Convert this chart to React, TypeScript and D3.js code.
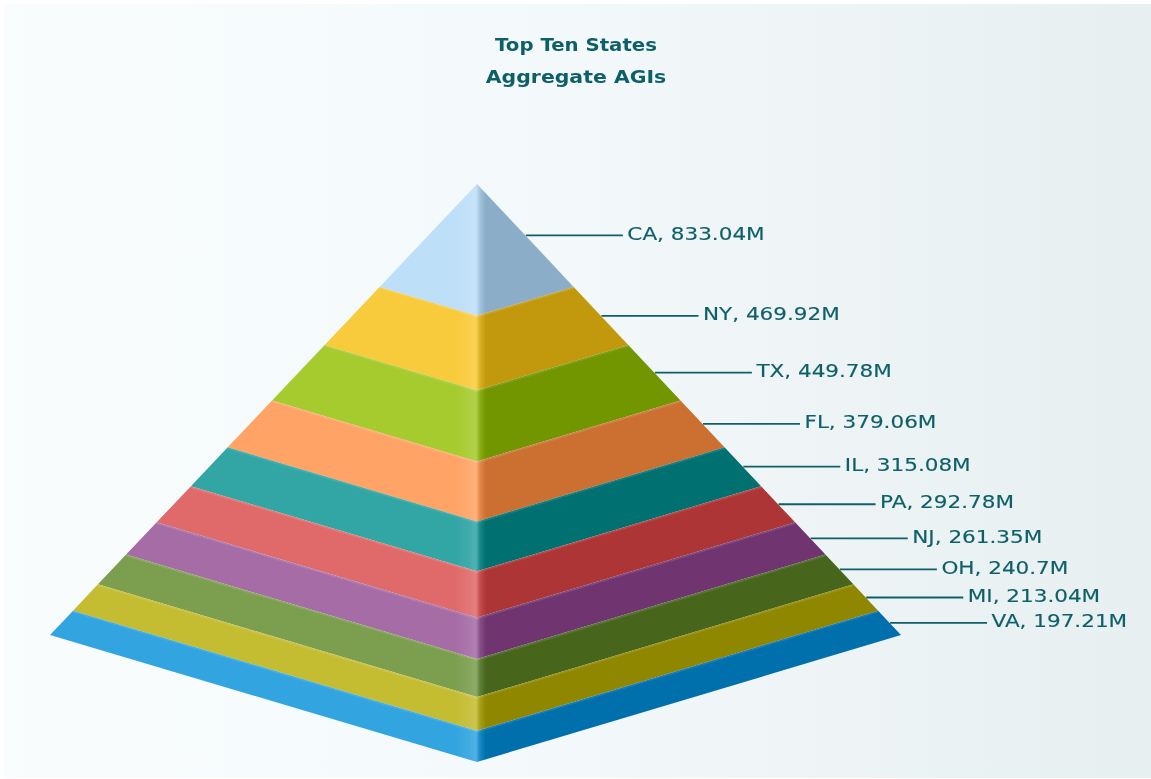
import React from "react";
import * as d3 from "d3";

const states = ["CA", "NY", "TX", "FL", "IL", "PA", "NJ", "OH", "MI", "VA"];
const values = [833.04, 469.92, 449.78, 379.06, 315.08, 292.78, 261.35, 240.7, 213.04, 197.21];
const valueLabels = ["833.04M", "469.92M", "449.78M", "379.06M", "315.08M", "292.78M", "261.35M", "240.7M", "213.04M", "197.21M"];
const leftColors = ["#BEDFF8", "#F8CB3C", "#A6CB2F", "#FFA466", "#33A5A5", "#E06B6B", "#A66CA6", "#7C9F50", "#C4BD33", "#33A5E0"];
const rightColors = ["#8CADC8", "#C2990C", "#719600", "#CC7033", "#007070", "#AD3535", "#703570", "#46661F", "#8F8700", "#006FAD"];
const titleLines = ["Top Ten States", "Aggregate AGIs"];

const W = 1151;
const H = 779;
const textColor = "#0F5F68";
const font = "'DejaVu Sans', Verdana, sans-serif";
const titleStretch = [1.09, 1.13];
const labelStretch = 1.19;

export default function App() {
  const cum = d3.cumsum(values);
  const total = cum[cum.length - 1];
  const t = d3.scaleLinear().domain([0, total]);
  const centerX = 477;
  const xLeft = t.copy().range([centerX, 50]);
  const xRight = t.copy().range([centerX, 901]);
  const ySide = t.copy().range([184, 635]);
  const yFront = t.copy().range([184, 762]);
  const line = d3.line<[number, number]>();
  const off = d3.scaleLinear().domain([50, 901]).range([0, 1]);

  return (
    <svg
      width={W}
      height={H}
      viewBox={`0 0 ${W} ${H}`}
      style={{ position: "absolute", left: 0, top: 0, display: "block" }}
    >
      <defs>
        <linearGradient id="bg" x1="0" x2="1" y1="0" y2="0">
          <stop offset="0" stopColor="#F9FDFE" />
          <stop offset="0.5" stopColor="#F3F8FA" />
          <stop offset="1" stopColor="#E7EFF1" />
        </linearGradient>
        <filter id="soft" x="-2%" y="-2%" width="104%" height="104%">
          <feGaussianBlur stdDeviation="0.7" />
        </filter>
        <filter id="softText" x="-5%" y="-20%" width="110%" height="140%">
          <feGaussianBlur stdDeviation="0.4" />
        </filter>
        {states.map((s, i) => {
          const L = leftColors[i];
          const R = rightColors[i];
          const mix = d3.interpolateRgb(L, R);
          const light = d3.interpolateRgb(L, "#ffffff");
          return (
            <linearGradient
              key={s}
              id={`face-${s}`}
              gradientUnits="userSpaceOnUse"
              x1={50}
              x2={901}
              y1="0"
              y2="0"
            >
              <stop offset="0" stopColor={L} />
              <stop offset={off(456)} stopColor={L} />
              <stop offset={off(470)} stopColor={light(0.08)} />
              <stop offset={off(476)} stopColor={light(0.14)} />
              <stop offset={off(480)} stopColor={mix(0.55)} />
              <stop offset={off(486)} stopColor={R} />
              <stop offset="1" stopColor={R} />
            </linearGradient>
          );
        })}
      </defs>
      <rect x={4} y={4} width={W - 4} height={H - 5} fill="url(#bg)" />

      <g filter="url(#soft)">
        {states.map((s, i) => {
          const a = i === 0 ? 0 : cum[i - 1];
          const b = cum[i];
          const d =
            line([
              [xLeft(a), ySide(a)],
              [centerX, yFront(a)],
              [xRight(a), ySide(a)],
              [xRight(b), ySide(b)],
              [centerX, yFront(b)],
              [xLeft(b), ySide(b)],
            ]) + "Z";
          const rim =
            i === 0
              ? null
              : line([
                  [xLeft(a), ySide(a) + 1],
                  [centerX, yFront(a) + 1],
                  [xRight(a), ySide(a) + 1],
                ]);
          return (
            <g key={s}>
              <path d={d} fill={`url(#face-${s})`} />
              {rim && <path d={rim} fill="none" stroke="#ffffff" strokeOpacity={0.1} strokeWidth={2} />}
            </g>
          );
        })}
      </g>

      <g>
        {states.map((s, i) => {
          const a = i === 0 ? 0 : cum[i - 1];
          const mid = (a + cum[i]) / 2;
          const x0 = xRight(mid);
          const y0 = ySide(mid);
          return (
            <g key={s}>
              <line x1={x0 + 0.5} x2={x0 + 97.5} y1={y0} y2={y0} stroke={textColor} strokeWidth={1.8} />
              <text
                transform={`translate(${x0 + 102},${y0 - 0.8}) scale(${labelStretch},1)`}
                dominantBaseline="middle"
                fontFamily={font}
                fontSize={18.1}
                fill={textColor}
                stroke={textColor}
                strokeWidth={0.15}
                filter="url(#softText)"
              >
                {`${s}, ${valueLabels[i]}`}
              </text>
            </g>
          );
        })}
      </g>

      <g fontFamily={font} fontWeight="bold" fontSize={18.1} fill={textColor} textAnchor="middle" filter="url(#softText)">
        {titleLines.map((l, i) => (
          <text key={l} transform={`translate(576,${51 + i * 31.5}) scale(${titleStretch[i]},1)`}>
            {l}
          </text>
        ))}
      </g>
    </svg>
  );
}
